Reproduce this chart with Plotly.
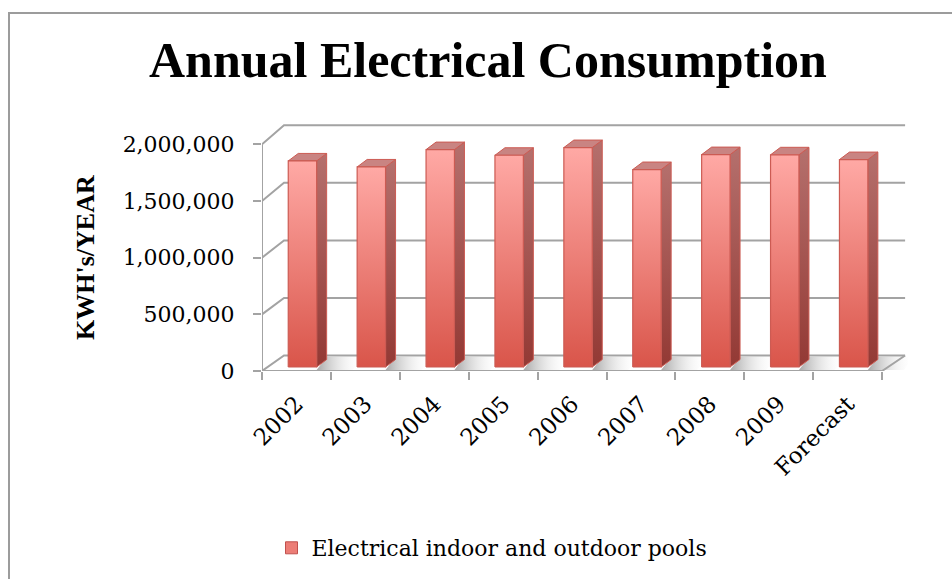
import plotly.graph_objects as go

# ---- data ----
categories = ["2002", "2003", "2004", "2005", "2006", "2007", "2008", "2009", "Forecast"]
consumption = [1818000, 1765000, 1918000, 1868000, 1936000, 1742000, 1874000, 1872000, 1830000]
y_ticks = [0, 500000, 1000000, 1500000, 2000000]
series_name = "Electrical indoor and outdoor pools"
chart_title = "Annual Electrical Consumption"
y_title = "KWH's/YEAR"

# ---- page / plot geometry (pixels) ----
W, H = 952, 579
L, R, T, B = 262, 908, 120, 371          # plot area = 3D box bounding region
CAT = 68.9                                # pixels per category on the front plane
YPX = 226.7 / 2_000_000                   # pixels per kWh on the front plane
XMIN = -0.5
XMAX = XMIN + (R - L) / CAT
YMAX = (B - T) / YPX
n = len(categories)
vmax = y_ticks[-1]

WALL_SHIFT = 22                           # depth offset of the back wall (px to the right)


def wall_lift(v):
    # back wall rises slightly more at the top (mild perspective)
    return 15.5 + 3.5 * v / vmax


def X(c, px=0.0):
    return c + px / CAT


def Y(v, px=0.0):
    return v + px / YPX


AXIS_COLOR = "#a3a3a3"
fig = go.Figure()

# ---- back wall gridlines + left-wall diagonals ----
gx, gy = [], []
for v in y_ticks:
    gx += [X(XMIN), X(XMIN, WALL_SHIFT), X(XMIN + n, WALL_SHIFT + 1), None]
    gy += [Y(v), Y(v, wall_lift(v)), Y(v, wall_lift(v)), None]
fig.add_trace(go.Scatter(x=gx, y=gy, mode="lines", line=dict(color=AXIS_COLOR, width=2),
                         hoverinfo="skip", showlegend=False))

# ---- soft floor shadows beside each bar ----
FACE_OFF = 6          # front face centre offset from category centre (px)
HALF = 14.2           # half width of front face (px)
BASE = 4              # front face base lift above the front floor edge (px)
SIDE_DX, SIDE_DY = 10, 7.5
for i in range(n):
    x0 = X(i, FACE_OFF + HALF)
    fig.add_trace(go.Scatter(
        x=[x0, X(i, FACE_OFF + HALF + 36), X(i, FACE_OFF + HALF + 46), X(i, FACE_OFF + HALF + SIDE_DX), x0],
        y=[Y(0, 1), Y(0, 1), Y(0, 14), Y(0, 14), Y(0, 1)],
        mode="lines", line=dict(width=0), fill="toself",
        fillgradient=dict(type="horizontal",
                          colorscale=[[0, "rgba(130,130,130,0.7)"], [1, "rgba(255,255,255,0)"]]),
        hoverinfo="skip", showlegend=False))

# ---- floor edges ----
fig.add_trace(go.Scatter(
    x=[X(XMIN), X(XMIN + n), X(XMIN + n, WALL_SHIFT + 1)],
    y=[Y(0), Y(0), Y(0, wall_lift(0))],
    mode="lines", line=dict(color=AXIS_COLOR, width=2), hoverinfo="skip", showlegend=False))

# ---- 3D bars ----
EDGE = "#cc5b53"
for i, (cat, v) in enumerate(zip(categories, consumption)):
    xl, xr = X(i, FACE_OFF - HALF), X(i, FACE_OFF + HALF)
    xl2, xr2 = X(i, FACE_OFF - HALF + SIDE_DX), X(i, FACE_OFF + HALF + SIDE_DX)
    yb, yt = Y(0, BASE), Y(v, BASE)
    yb2, yt2 = Y(0, BASE + SIDE_DY), Y(v, BASE + SIDE_DY)
    # side face
    fig.add_trace(go.Scatter(
        x=[xr, xr2, xr2, xr, xr], y=[yb, yb2, yt2, yt, yb],
        mode="lines", line=dict(color=EDGE, width=1), fill="toself",
        fillgradient=dict(type="vertical", colorscale=[[0, "#933934"], [1, "#b5706d"]]),
        hoverinfo="skip", showlegend=False))
    # top face
    fig.add_trace(go.Scatter(
        x=[xl, xr, xr2, xl2, xl], y=[yt, yt, yt2, yt2, yt],
        mode="lines", line=dict(color=EDGE, width=1), fill="toself", fillcolor="#c98482",
        hoverinfo="skip", showlegend=False))
    # front face
    fig.add_trace(go.Scatter(
        x=[xl, xr, xr, xl, xl], y=[yb, yb, yt, yt, yb],
        mode="lines", line=dict(color=EDGE, width=1.2), fill="toself",
        fillgradient=dict(type="vertical", colorscale=[[0, "#d9554a"], [1, "#ffa9a5"]]),
        name=cat, hovertemplate=f"{cat}: {v:,}<extra></extra>", showlegend=False))

# ---- front vertical axis line ----
fig.add_trace(go.Scatter(x=[X(XMIN), X(XMIN)], y=[0, vmax], mode="lines",
                         line=dict(color=AXIS_COLOR, width=2), hoverinfo="skip", showlegend=False))

# ---- legend entry ----
fig.add_trace(go.Bar(x=[None], y=[None], name=series_name,
                     marker=dict(color="#ec7d76", line=dict(color="#c0504d", width=1))))


def px_to_paper_x(px):
    return (px - L) / (R - L)


def px_to_paper_y(py):
    return (B - py) / (B - T)


fig.update_layout(
    width=W, height=H,
    margin=dict(l=L, r=W - R, t=T, b=H - B, autoexpand=False),
    paper_bgcolor="white", plot_bgcolor="rgba(0,0,0,0)",
    xaxis=dict(range=[XMIN, XMAX], showgrid=False, zeroline=False, showline=False,
               tickvals=list(range(n)), ticktext=categories, ticks="", tickangle=-45,
               ticklabelstandoff=14,
               tickfont=dict(family="DejaVu Serif", size=23, color="black"),
               minor=dict(tickvals=[k - 0.5 for k in range(n + 1)], ticks="outside",
                          ticklen=8, tickcolor=AXIS_COLOR, tickwidth=2),
               fixedrange=True, automargin=False),
    yaxis=dict(range=[0, YMAX], showgrid=False, zeroline=False, showline=False,
               tickvals=y_ticks, tickformat=",", ticks="outside", ticklen=8,
               tickcolor=AXIS_COLOR, tickwidth=2, ticklabelstandoff=14,
               tickfont=dict(family="DejaVu Serif", size=22, color="black"),
               fixedrange=True, automargin=False),
    showlegend=True,
    legend=dict(x=px_to_paper_x(492), y=px_to_paper_y(548), xanchor="center", yanchor="middle",
                orientation="h", itemwidth=30,
                font=dict(family="DejaVu Serif", size=22, color="black"),
                bgcolor="rgba(0,0,0,0)"),
    annotations=[
        dict(text=chart_title, xref="paper", yref="paper",
             x=px_to_paper_x(488), y=px_to_paper_y(60), xanchor="center", yanchor="middle",
             showarrow=False,
             font=dict(family="Liberation Serif", size=50, color="black", weight="bold")),
        dict(text=y_title, xref="paper", yref="paper", textangle=-90,
             x=px_to_paper_x(85), y=px_to_paper_y(258), xanchor="center", yanchor="middle",
             showarrow=False,
             font=dict(family="Liberation Serif", size=26, color="black", weight="bold")),
    ],
    shapes=[dict(type="rect", xref="paper", yref="paper",
                 x0=px_to_paper_x(9), x1=px_to_paper_x(990),
                 y0=px_to_paper_y(620), y1=px_to_paper_y(13),
                 line=dict(color="#9c9c9c", width=2), fillcolor="rgba(0,0,0,0)", layer="below")],
)

fig.write_html("out.html")
